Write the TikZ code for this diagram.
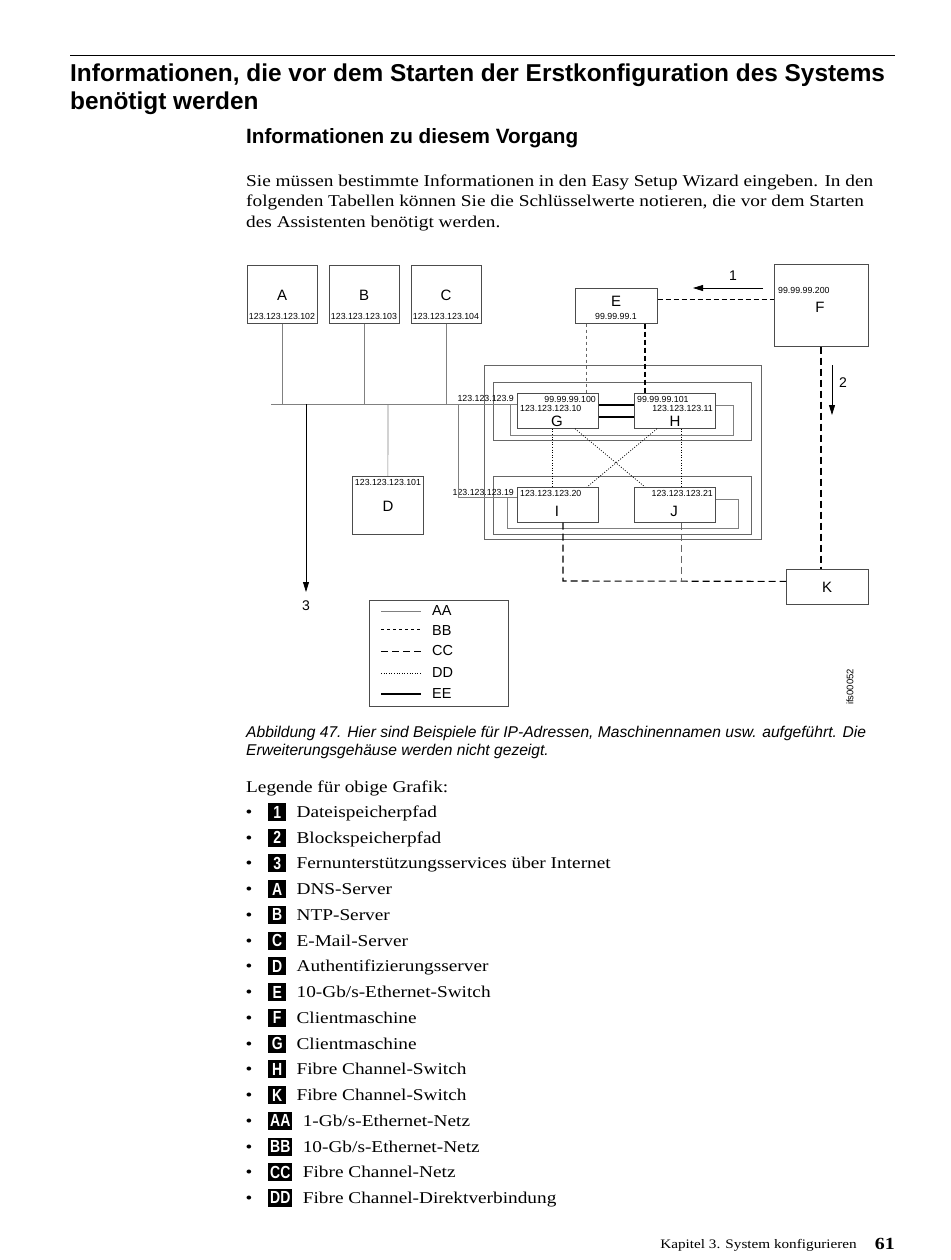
\documentclass[tikz,border=0pt]{standalone}
\usepackage{fontspec}
\setmainfont{Liberation Serif}
\newfontfamily\hv{Liberation Sans}
\newfontfamily\bodyf[FakeStretch=1.17]{Liberation Serif}
\newfontfamily\condf[FakeStretch=0.8]{Liberation Sans}
\usetikzlibrary{arrows.meta}
\newcommand\myfs[1]{\fontsize{#1}{#1}\selectfont}
\begin{document}
\begin{tikzpicture}[x=1pt,y=-1pt,
  box/.style={draw=black!70, line width=0.7pt, inner sep=0pt, anchor=north west},
  grp/.style={draw=black!60, line width=0.6pt},
  aa/.style={draw=black!50, line width=0.7pt},
  bb/.style={draw=black!60, line width=0.7pt, dash pattern=on 3pt off 3pt},
  bbh/.style={draw=black, line width=1.2pt, dash pattern=on 5pt off 3pt},
  cc/.style={draw=black, line width=1.1pt, dash pattern=on 7pt off 4pt},
  ccl/.style={draw=black!60, line width=0.8pt, dash pattern=on 7pt off 4pt},
  dd/.style={draw=black, line width=0.7pt, dash pattern=on 1pt off 1.6pt},
  ee/.style={draw=black, line width=1.8pt},
  ip/.style={font=\hv\myfs{8.8}, inner sep=0pt},
  big/.style={font=\hv\myfs{15}, inner sep=0pt},
  txt/.style={inner sep=0pt, anchor=base west},
  arr/.style={draw=black, line width=0.8pt, -{Triangle[length=10pt,width=6pt]}},
  badge/.style={fill=black, text=white, font=\condf\bfseries\myfs{17.5}, inner xsep=2pt, inner ysep=0pt, minimum height=18pt, minimum width=18pt, anchor=west}
]
\useasboundingbox (0,0) rectangle (950,1260);
\fill[white] (0,0) rectangle (950,1260);

% header
\draw[line width=1pt] (70,56) -- (895,56);
\node[txt, font=\hv\bfseries\myfs{24.4}] (t1) at (70,82) {Informationen, die vor dem Starten der Erstkonfiguration des Systems};
\node[txt, font=\hv\bfseries\myfs{24.4}] (t2) at (70,110) {benötigt werden};
\node[txt, font=\hv\bfseries\myfs{20.7}] (sub) at (246,144) {Informationen zu diesem Vorgang};
\node[txt, font=\bodyf\myfs{16.5}] (p1) at (246,186) {Sie müssen bestimmte Informationen in den Easy Setup Wizard eingeben. In den};
\node[txt, font=\bodyf\myfs{16.5}] (p2) at (246,207) {folgenden Tabellen können Sie die Schlüsselwerte notieren, die vor dem Starten};
\node[txt, font=\bodyf\myfs{16.5}] (p3) at (246,227) {des Assistenten benötigt werden.};

% boxes
\node[box, minimum width=70pt, minimum height=58pt] (A) at (247,265) {};
\node[box, minimum width=70pt, minimum height=58pt] (B) at (329,265) {};
\node[box, minimum width=70pt, minimum height=58pt] (C) at (411,265) {};
\node[big] (Al) at (282,295) {A};
\node[big] (Bl) at (364,295) {B};
\node[big] (Cl) at (446,295) {C};
\node[ip] (Aip) at (282,316) {123.123.123.102};
\node[ip] (Bip) at (364,316) {123.123.123.103};
\node[ip] (Cip) at (446,316) {123.123.123.104};

\node[box, minimum width=82pt, minimum height=35pt] (E) at (575,288) {};
\node[big] (El) at (616,301) {E};
\node[ip] (Eip) at (616,316) {99.99.99.1};

\node[box, minimum width=94pt, minimum height=82pt] (F) at (774,264) {};
\node[ip, anchor=west] (Fip) at (778,290) {99.99.99.200};
\node[big] (Fl) at (820,307) {F};

\node[box, minimum width=71pt, minimum height=58pt] (D) at (352,476) {};
\node[ip] (Dip) at (388,482) {123.123.123.101};
\node[big] (Dl) at (388,506) {D};

\node[box, minimum width=82pt, minimum height=35pt] (K) at (786,569) {};
\node[big] (Kl) at (827,587) {K};

% enclosure
\draw[grp] (484,365) rectangle (761,539);
\draw[grp] (493,382) rectangle (751,440);
\draw[grp] (493,476) rectangle (751,534);

\node[box, minimum width=81pt, minimum height=35pt, fill=white] (G) at (517,393) {};
\node[box, minimum width=81pt, minimum height=35pt, fill=white] (H) at (634,393) {};
\node[box, minimum width=81pt, minimum height=35pt, fill=white] (I) at (517,487) {};
\node[box, minimum width=81pt, minimum height=35pt, fill=white] (J) at (634,487) {};

\node[ip, anchor=base east] (Gip1) at (596,402) {99.99.99.100};
\node[ip, anchor=base west] (Gip2) at (520,411) {123.123.123.10};
\node[big] (Gl) at (557,421) {G};
\node[ip, anchor=base west] (Hip1) at (637,402) {99.99.99.101};
\node[ip, anchor=base east] (Hip2) at (713,411) {123.123.123.11};
\node[big] (Hl) at (675,421) {H};
\node[ip, anchor=base west] (Iip) at (520,496) {123.123.123.20};
\node[big] (Il) at (557,511) {I};
\node[ip, anchor=base east] (Jip) at (713,496) {123.123.123.21};
\node[big] (Jl) at (674,511) {J};
\node[ip, anchor=base east] (p9) at (514,401) {123.123.123.9};
\node[ip, anchor=base east] (p19) at (514,495) {123.123.123.19};

% 1 Gb network
\coordinate (busL) at (271,404);
\draw[aa] (busL) -- (busL -| G.west);
\draw[aa] (A.south) -- (A.south |- busL);
\draw[aa] (B.south) -- (B.south |- busL);
\draw[aa] (C.south) -- (C.south |- busL);
\coordinate (dtop) at (388,404);
\draw[aa] (dtop) -- (D.north);
\coordinate (gl) at (510,404);
\coordinate (hr) at (733,405);
\draw[aa] (gl) -- (510,435) -- (hr |- 0,435) -- (hr) -- (hr -| H.east);
\coordinate (il) at (458,404);
\coordinate (ia) at (458,497);
\draw[aa] (il) -- (ia) -- (ia -| I.west);
\coordinate (il2) at (507,497);
\coordinate (jr) at (738,499);
\draw[aa] (il2) -- (507,528) -- (jr |- 0,528) -- (jr) -- (jr -| J.east);

% arrow 3
\coordinate (a3) at (306,404);
\node[big, font=\hv\myfs{14}] (l3) at (306,606) {3};
\draw[arr] (a3) -- (306,592);

% 10 Gb network
\draw[bbh] ([yshift=6pt]E.east) -- ([yshift=6pt]E.east -| F.west);
\draw[bb] (E.south -| 586,0) -- (G.north -| 586,0);
\draw[bbh] (E.south -| 645,0) -- (H.north -| 645,0);
\coordinate (a1s) at (763,288);
\coordinate (a1e) at (693,288);
\draw[arr] (a1s) -- (a1e);
\node[big, font=\hv\myfs{14}] (l1) at (733,276) {1};

% FC
\draw[ee] ([yshift=5.5pt]G.east) -- ([yshift=5.5pt]H.west);
\draw[ee] ([yshift=-6.5pt]G.east) -- ([yshift=-6.5pt]H.west);
\draw[dd] (G.south -| 552,0) -- (I.north -| 552,0);
\draw[dd] (H.south -| 681,0) -- (J.north -| 681,0);
\draw[dd] (G.south -| 575,0) -- (J.north -| 645,0);
\draw[dd] (H.south -| 657,0) -- (I.north -| 587,0);
\coordinate (kc) at (563,581);
\draw[cc] (I.south -| kc) -- (kc) -- ([yshift=5.5pt]K.west);
\draw[ccl] (J.south -| 681,0) -- (681,581);
\draw[cc] (F.south -| 821,0) -- (K.north -| 821,0);
\coordinate (a2s) at (832,365);
\coordinate (a2e) at (832,415);
\draw[arr] (a2s) -- (a2e);
\node[big, font=\hv\myfs{14}] (l2) at (843,383) {2};

% legend box
\node[box, minimum width=139pt, minimum height=106pt] (leg) at (369,600) {};
\draw[aa] (381,611) -- (421,611);
\draw[bb, draw=black] (381,629) -- (421,629);
\draw[draw=black, line width=0.8pt, dash pattern=on 7pt off 4pt] (381,651) -- (421,651);
\draw[dd] (381,673) -- (421,673);
\draw[ee] (381,694) -- (421,694);
\node[big, font=\hv\myfs{14.5}, anchor=west] (lAA) at (432,611) {AA};
\node[big, font=\hv\myfs{14.5}, anchor=west] (lBB) at (432,631) {BB};
\node[big, font=\hv\myfs{14.5}, anchor=west] (lCC) at (432,651) {CC};
\node[big, font=\hv\myfs{14.5}, anchor=west] (lDD) at (432,673) {DD};
\node[big, font=\hv\myfs{14.5}, anchor=west] (lEE) at (432,694) {EE};
\node[rotate=90, font=\hv\myfs{9.5}, inner sep=0pt] (ifs) at (850,687) {ifs00052};

% caption
\node[txt, font=\hv\itshape\myfs{15.6}] (cap1) at (246,737) {Abbildung 47. Hier sind Beispiele für IP-Adressen, Maschinennamen usw. aufgeführt. Die};
\node[txt, font=\hv\itshape\myfs{15.6}] (cap2) at (246,755) {Erweiterungsgehäuse werden nicht gezeigt.};
\node[txt, font=\bodyf\myfs{16.5}] (lg) at (246,792) {Legende für obige Grafik:};

\foreach \k/\t [count=\i from 0] in {1/Dateispeicherpfad, 2/Blockspeicherpfad, 3/{Fernunterstützungsservices über Internet}, A/DNS-Server, B/NTP-Server, C/E-Mail-Server, D/Authentifizierungsserver, E/{10-Gb/s-Ethernet-Switch}, F/Clientmaschine, G/Clientmaschine, H/Fibre Channel-Switch, K/Fibre Channel-Switch, AA/{1-Gb/s-Ethernet-Netz}, BB/{10-Gb/s-Ethernet-Netz}, CC/Fibre Channel-Netz, DD/Fibre Channel-Direktverbindung} {
  \pgfmathsetmacro\yy{812+25.73*\i}
  \node[badge] (bd\i) at (268,\yy) {\k};
  \node[txt, font=\bodyf\myfs{16.5}, anchor=base] (bu\i) at ([xshift=-19pt,yshift=-5.5pt]bd\i.west) {•};
  \node[txt, font=\bodyf\myfs{16.5}] (it\i) at ([xshift=10pt,yshift=-5.5pt]bd\i.east) {\t};
}

% footer
\node[txt, anchor=base east, font=\bodyf\myfs{13}] (ft) at (857,1248) {Kapitel 3. System konfigurieren};
\node[txt, anchor=base east, font=\bodyf\bfseries\myfs{17}] (pg) at (895,1249) {61};
\end{tikzpicture}
\end{document}
